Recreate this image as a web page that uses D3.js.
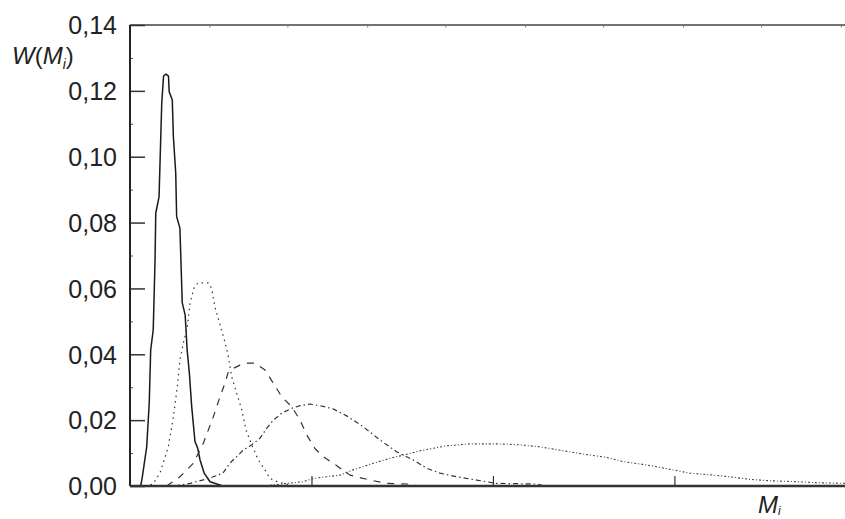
<!DOCTYPE html>
<html>
<head>
<meta charset="utf-8">
<script src="https://cdn.jsdelivr.net/npm/d3@7"></script>
<style>
  html, body { margin: 0; padding: 0; background: #fff; }
  svg { display: block; }
  text { font-family: "Liberation Sans", Arial, sans-serif; fill: #222; }
</style>
</head>
<body>
<svg id="chart" width="845" height="519"></svg>
<script>
// ---- data (x in axis units with unlabeled major ticks at 1, 2, 3) ----
const yTicks = [0, 0.02, 0.04, 0.06, 0.08, 0.10, 0.12, 0.14];
const yMinorTicks = [0.01, 0.03, 0.05, 0.07, 0.09, 0.11, 0.13];
const xTicks = [1, 2, 3];
const xTopTicks = [0.44, 0.87, 1.31, 1.74, 2.18, 2.61, 3.05, 3.48, 3.92];

const s1x = [0.059,0.068,0.092,0.106,0.114,0.128,0.138,0.142,0.160,0.175,0.185,0.198,0.212,0.216,0.233,0.239,0.252,0.257,0.275,0.288,0.304,0.315,0.327,0.340,0.358,0.373,0.386,0.409,0.441,0.512];
const s1y = [0,0.0028,0.0119,0.0252,0.0413,0.0474,0.0686,0.0829,0.0878,0.1163,0.1245,0.1251,0.1245,0.1197,0.1172,0.1061,0.0950,0.0818,0.0783,0.0556,0.0519,0.0413,0.0343,0.0241,0.0135,0.0115,0.0079,0.0039,0.0013,0];

const s2x = [0.083,0.127,0.165,0.211,0.239,0.261,0.275,0.294,0.316,0.331,0.354,0.376,0.431,0.450,0.468,0.496,0.523,0.542,0.560,0.588,0.616,0.639,0.671,0.707,0.744,0.771,0.815,0.882];
const s2y = [0,0.0006,0.0039,0.0119,0.0210,0.0302,0.0383,0.0434,0.0484,0.0556,0.0605,0.0617,0.0617,0.0600,0.0544,0.0489,0.0438,0.0393,0.0332,0.0282,0.0231,0.0170,0.0125,0.0079,0.0049,0.0023,0.0012,0.0003];

const s3x = [0.202,0.275,0.349,0.404,0.459,0.496,0.523,0.542,0.569,0.606,0.650,0.689,0.744,0.790,0.836,0.891,0.937,0.974,1.019,1.065,1.120,1.212,1.322,1.414,1.526,1.598];
const s3y = [0,0.0028,0.0069,0.0130,0.0210,0.0271,0.0312,0.0347,0.0357,0.0367,0.0373,0.0373,0.0352,0.0312,0.0271,0.0241,0.0200,0.0155,0.0114,0.0089,0.0069,0.0033,0.0018,0.0008,0.0006,0];

const s4x = [0.248,0.331,0.441,0.512,0.551,0.588,0.624,0.671,0.716,0.753,0.790,0.836,0.891,0.937,0.992,1.047,1.120,1.194,1.285,1.377,1.469,1.561,1.635,1.708,1.800,1.910,2.020,2.240,2.287];
const s4y = [0,0.0008,0.0024,0.0039,0.0070,0.0089,0.0109,0.0125,0.0145,0.0175,0.0200,0.0221,0.0236,0.0244,0.0249,0.0244,0.0234,0.0213,0.0180,0.0140,0.0104,0.0079,0.0054,0.0039,0.0028,0.0018,0.0008,0.0006,0];

const s5x = [0.733,0.863,0.953,1.010,1.084,1.157,1.230,1.341,1.433,1.506,1.616,1.745,1.873,2.020,2.149,2.259,2.387,2.498,2.626,2.718,2.847,2.975,3.085,3.214,3.306,3.416,3.526,3.673,3.783,3.939];
const s5y = [0,0.0008,0.0013,0.0023,0.0028,0.0033,0.0049,0.0069,0.0084,0.0094,0.0109,0.0122,0.0128,0.0128,0.0125,0.0119,0.0107,0.0097,0.0087,0.0074,0.0064,0.0051,0.0039,0.0033,0.0028,0.0020,0.0016,0.0013,0.0010,0.0008];

const series = [
  { xs: s1x, ys: s1y, dash: null,          width: 1.5, color: "#1a1a1a" },
  { xs: s2x, ys: s2y, dash: "1.5,4",       width: 1.2, color: "#333" },
  { xs: s3x, ys: s3y, dash: "7,7",         width: 1.2, color: "#333" },
  { xs: s4x, ys: s4y, dash: "5,3,1.5,3",   width: 1.2, color: "#333" },
  { xs: s5x, ys: s5y, dash: "2,2,1,2",     width: 1.1, color: "#444" }
];

(function () {
// ---- layout ----
const svg = d3.select("#chart");
const mL = 130, mR = 845, mT = 25, mB = 486;

const x = d3.scaleLinear().domain([0, 3.94]).range([mL, mR]);
const y = d3.scaleLinear().domain([0, 0.14]).range([mB, mT]);

svg.append("rect").attr("width", 845).attr("height", 519).attr("fill", "#fff");

svg.append("defs").append("clipPath").attr("id", "plotclip")
  .append("rect").attr("x", mL).attr("y", mT - 2).attr("width", mR - mL).attr("height", mB - mT + 2);

// top border
svg.append("line").attr("x1", mL).attr("x2", mR).attr("y1", mT).attr("y2", mT)
  .attr("stroke", "#444").attr("stroke-width", 1.5);

// top minor ticks
svg.append("g").selectAll("line").data(xTopTicks).join("line")
  .attr("x1", d => x(d)).attr("x2", d => x(d))
  .attr("y1", mT).attr("y2", mT + 2.5)
  .attr("stroke", "#777").attr("stroke-width", 1);

// y axis with major ticks (inward) and labels
const yAxis = d3.axisRight(y).tickValues(yTicks).tickSize(15).tickPadding(0)
  .tickFormat(d => d3.format(".2f")(d).replace(".", ","));
const gy = svg.append("g").attr("transform", `translate(${mL},0)`).call(yAxis);
gy.select(".domain").remove();
gy.selectAll(".tick line").attr("stroke", "#333").attr("stroke-width", 1.5);
gy.selectAll(".tick text")
  .attr("x", -13).attr("dy", "0.35em")
  .attr("text-anchor", "end")
  .style("font-size", "25px").style("font-family", "'Liberation Sans', Arial, sans-serif")
  .attr("fill", "#222");

// y minor ticks
const yMinor = d3.axisRight(y).tickValues(yMinorTicks).tickSize(3).tickFormat("");
const gym = svg.append("g").attr("transform", `translate(${mL},0)`).call(yMinor);
gym.select(".domain").remove();
gym.selectAll(".tick line").attr("stroke", "#555").attr("stroke-width", 1);

// y axis line
svg.append("line").attr("x1", mL).attr("x2", mL).attr("y1", mT).attr("y2", mB)
  .attr("stroke", "#222").attr("stroke-width", 2);

// curves
const line = d3.line().x(d => x(d[0])).y(d => y(d[1]));
const gCurves = svg.append("g").attr("clip-path", "url(#plotclip)");
series.forEach(s => {
  const pts = s.xs.map((v, i) => [v, s.ys[i]]);
  gCurves.append("path").datum(pts)
    .attr("d", line)
    .attr("fill", "none")
    .attr("stroke", s.color)
    .attr("stroke-width", s.width)
    .attr("stroke-linejoin", "round")
    .attr("stroke-dasharray", s.dash);
});

// x axis: major ticks pointing up, no labels
const xAxis = d3.axisTop(x).tickValues(xTicks).tickSize(10).tickFormat("");
const gx = svg.append("g").attr("transform", `translate(0,${mB})`).call(xAxis);
gx.select(".domain").remove();
gx.selectAll(".tick line").attr("stroke", "#333").attr("stroke-width", 1.2);

// x axis line
svg.append("line").attr("x1", mL).attr("x2", mR).attr("y1", mB).attr("y2", mB)
  .attr("stroke", "#333").attr("stroke-width", 2.5);

// y axis title W(M_i)
const yt = svg.append("text").attr("x", 12).attr("y", 64).style("font-size", "24px");
yt.append("tspan").style("font-style", "italic").text("W");
yt.append("tspan").text("(");
yt.append("tspan").style("font-style", "italic").text("M");
yt.append("tspan").style("font-style", "italic").style("font-size", "14px").attr("dy", 5).text("i");
yt.append("tspan").attr("dy", -5).text(")");

// x axis title M_i
const xt = svg.append("text").attr("x", 758).attr("y", 513).style("font-size", "24px");
xt.append("tspan").style("font-style", "italic").text("M");
xt.append("tspan").style("font-style", "italic").style("font-size", "12px").attr("dy", 2).text("i");
})();
</script>
</body>
</html>
